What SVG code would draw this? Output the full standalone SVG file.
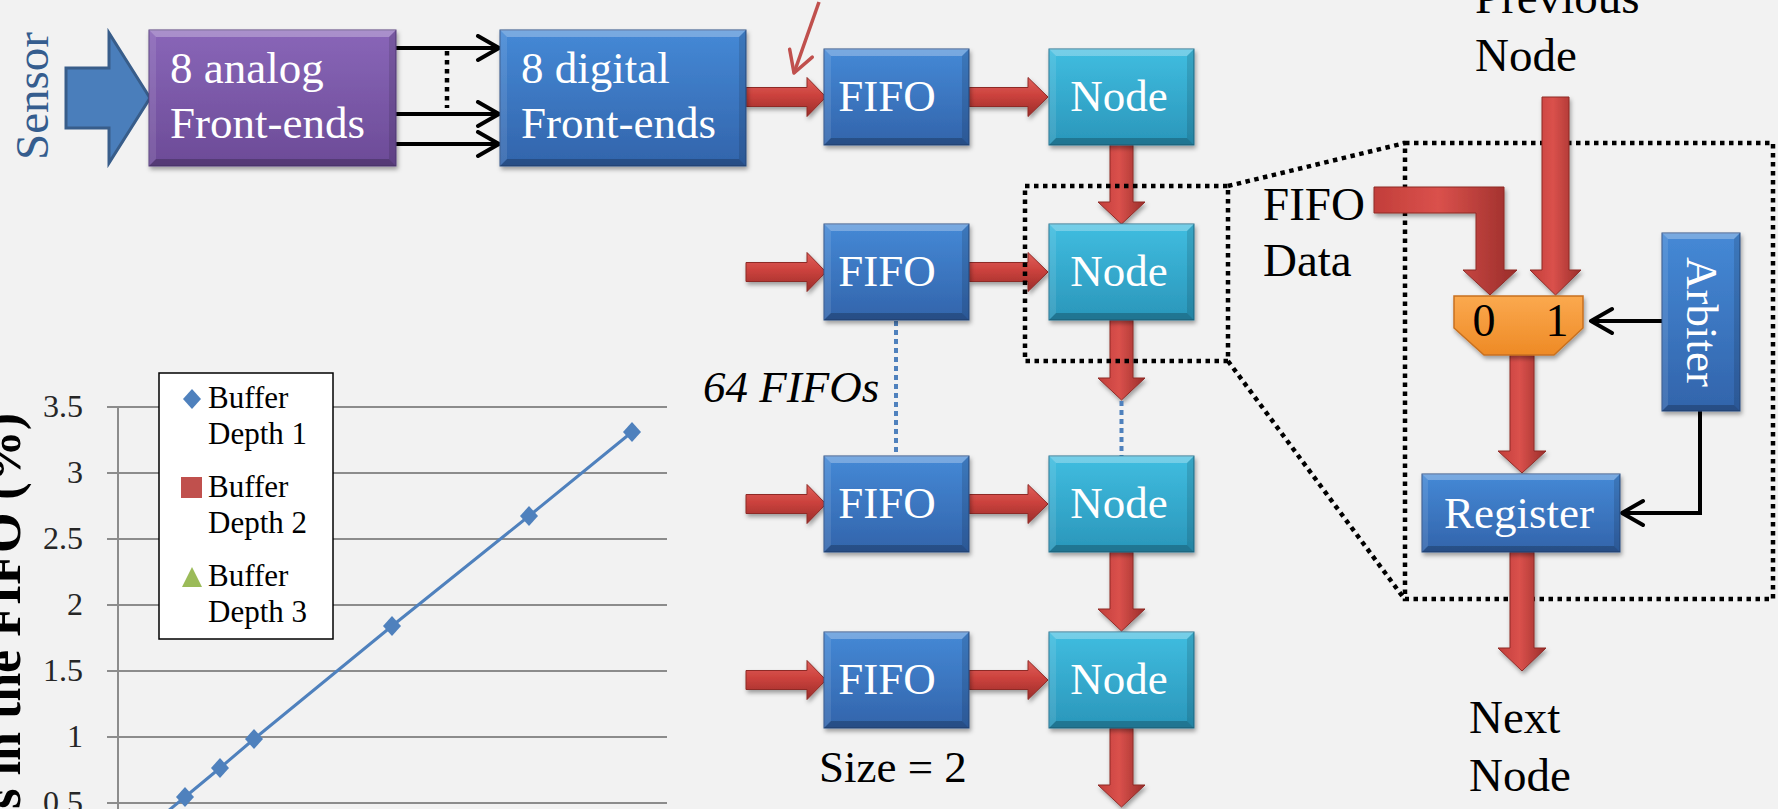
<svg xmlns="http://www.w3.org/2000/svg" xmlns:xlink="http://www.w3.org/1999/xlink" width="1778" height="809" viewBox="0 0 1778 809">
<defs>
<style>
text{font-family:"Liberation Serif","Times New Roman",serif}
.w{fill:#fff;font-size:45px}
.k{fill:#000;font-size:47px}
.bt{fill:#fff;opacity:.28}
.bb{fill:#000;opacity:.22}
.bl{fill:#fff;opacity:.1}
.br{fill:#000;opacity:.12}
.grid{stroke:#8C8C8C;stroke-width:2}
.tick{fill:#262626;font-size:32px;text-anchor:end}
.leg{fill:#000;font-size:31px}
.rh{fill:url(#gRedH);stroke:#8E2A27;stroke-width:1;filter:url(#sh)}
.rv{fill:url(#gRedV);stroke:#8E2A27;stroke-width:1;filter:url(#sh)}
.blk{fill:none;stroke:#000;stroke-width:4}
.dotk{fill:none;stroke:#000;stroke-width:4.5;stroke-dasharray:4.5 4.5}
.dotb{fill:none;stroke:#4F81BD;stroke-width:4;stroke-dasharray:5 4}
</style>
<filter id="sh" x="-15%" y="-15%" width="135%" height="145%">
<feDropShadow dx="1.5" dy="3" stdDeviation="2" flood-color="#000" flood-opacity="0.35"/>
</filter>
<linearGradient id="gBlue" x1="0" y1="0" x2="0" y2="1"><stop offset="0" stop-color="#4589D6"/><stop offset="1" stop-color="#3264AB"/></linearGradient>
<linearGradient id="gCyan" x1="0" y1="0" x2="0" y2="1"><stop offset="0" stop-color="#40BDE0"/><stop offset="1" stop-color="#2A96BA"/></linearGradient>
<linearGradient id="gPurp" x1="0" y1="0" x2="0" y2="1"><stop offset="0" stop-color="#8966B8"/><stop offset="1" stop-color="#6C4B97"/></linearGradient>
<linearGradient id="gOrange" x1="0" y1="0" x2="0" y2="1"><stop offset="0" stop-color="#FBA94F"/><stop offset="1" stop-color="#EE8A25"/></linearGradient>
<linearGradient id="gRedH" x1="0" y1="0" x2="0" y2="1"><stop offset="0" stop-color="#E0605B"/><stop offset="0.45" stop-color="#CC423D"/><stop offset="1" stop-color="#9A2D2A"/></linearGradient>
<linearGradient id="gRedV" x1="0" y1="0" x2="1" y2="0"><stop offset="0" stop-color="#C23E3A"/><stop offset="0.45" stop-color="#DA514C"/><stop offset="1" stop-color="#9A2D2A"/></linearGradient>
<g id="bev145">
<polygon class="bt" points="0,0 145,0 138,7 7,7"/>
<polygon class="bb" points="0,96 145,96 138,89 7,89"/>
<polygon class="bl" points="0,0 7,7 7,89 0,96"/>
<polygon class="br" points="145,0 138,7 138,89 145,96"/>
</g>
<g id="fifoShape">
<rect width="145" height="96" fill="url(#gBlue)" stroke="#2A4F85" stroke-width="1" filter="url(#sh)"/>
<use xlink:href="#bev145"/>
</g>
<g id="nodeShape">
<rect width="145" height="96" fill="url(#gCyan)" stroke="#22738F" stroke-width="1" filter="url(#sh)"/>
<use xlink:href="#bev145"/>
</g>
<path id="dia" d="M0,-10 L9,0 L0,10 L-9,0Z" fill="#4F81BD"/>
<marker id="chevK" markerUnits="userSpaceOnUse" markerWidth="30" markerHeight="30" refX="24" refY="14" orient="auto">
<path d="M3,2 L24,14 L3,26" fill="none" stroke="#000" stroke-width="4" stroke-linejoin="round" stroke-linecap="round"/>
</marker>
<marker id="chevR" markerUnits="userSpaceOnUse" markerWidth="30" markerHeight="30" refX="24" refY="14" orient="auto">
<path d="M3,2 L24,14 L3,26" fill="none" stroke="#C0504D" stroke-width="3.5" stroke-linejoin="round" stroke-linecap="round"/>
</marker>
</defs>

<rect width="1778" height="809" fill="#F2F2F2"/>

<!-- chart -->
<g id="chart">
<g class="grid">
<line x1="107" y1="407" x2="667" y2="407"/>
<line x1="107" y1="473" x2="667" y2="473"/>
<line x1="107" y1="539" x2="667" y2="539"/>
<line x1="107" y1="605" x2="667" y2="605"/>
<line x1="107" y1="671" x2="667" y2="671"/>
<line x1="107" y1="737" x2="667" y2="737"/>
<line x1="107" y1="803" x2="667" y2="803"/>
<line x1="118" y1="407" x2="118" y2="809"/>
</g>
<text class="tick" x="83" y="417">3.5</text>
<text class="tick" x="83" y="483">3</text>
<text class="tick" x="83" y="549">2.5</text>
<text class="tick" x="83" y="615">2</text>
<text class="tick" x="83" y="681">1.5</text>
<text class="tick" x="83" y="747">1</text>
<text class="tick" x="83" y="813">0.5</text>
<text transform="translate(20,413) rotate(-90)" text-anchor="end" font-size="52" font-weight="bold" fill="#000">s in the FIFO (%)</text>
<polyline points="168,811 185,797 220,768 254,739 392,626 529,516 632,432" fill="none" stroke="#4F81BD" stroke-width="3"/>
<use xlink:href="#dia" x="185" y="797"/>
<use xlink:href="#dia" x="220" y="768"/>
<use xlink:href="#dia" x="254" y="739"/>
<use xlink:href="#dia" x="392" y="626"/>
<use xlink:href="#dia" x="529" y="516"/>
<use xlink:href="#dia" x="632" y="432"/>
<g id="legend">
<rect x="159" y="373" width="174" height="266" fill="#fff" stroke="#000" stroke-width="1.5"/>
<use xlink:href="#dia" x="192" y="399"/>
<text class="leg" x="208" y="408">Buffer</text>
<text class="leg" x="208" y="444">Depth 1</text>
<rect x="181" y="477" width="21" height="21" fill="#C0504D"/>
<text class="leg" x="208" y="497">Buffer</text>
<text class="leg" x="208" y="533">Depth 2</text>
<polygon points="182,587 202,587 192,567" fill="#9BBB59"/>
<text class="leg" x="208" y="586">Buffer</text>
<text class="leg" x="208" y="622">Depth 3</text>
</g>
</g>

<!-- connectors -->
<g id="connectors">
<polygon id="sensorArrow" points="66,68 109,68 109,33 150,98 109,163 109,128 66,128" fill="#4A7EBB" stroke="#385D8A" stroke-width="3"/>
<line class="blk" x1="396" y1="48" x2="499" y2="48" marker-end="url(#chevK)"/>
<line class="blk" x1="396" y1="114" x2="499" y2="114" marker-end="url(#chevK)"/>
<line class="blk" x1="396" y1="144" x2="499" y2="144" marker-end="url(#chevK)"/>
<line class="dotk" x1="447" y1="51" x2="447" y2="108"/>
<line x1="819" y1="2" x2="794" y2="73" stroke="#C0504D" stroke-width="3.5" marker-end="url(#chevR)"/>

<polygon class="rh" points="746,87.5 807,87.5 807,77.5 826,97 807,116.5 807,106.5 746,106.5"/>
<polygon class="rh" points="969,87.5 1028,87.5 1028,77.5 1048,97 1028,116.5 1028,106.5 969,106.5"/>
<polygon class="rh" points="746,262.5 807,262.5 807,252.5 826,272 807,291.5 807,281.5 746,281.5"/>
<polygon class="rh" points="969,262.5 1028,262.5 1028,252.5 1048,272 1028,291.5 1028,281.5 969,281.5"/>
<polygon class="rh" points="746,494.5 807,494.5 807,484.5 826,504 807,523.5 807,513.5 746,513.5"/>
<polygon class="rh" points="969,494.5 1028,494.5 1028,484.5 1048,504 1028,523.5 1028,513.5 969,513.5"/>
<polygon class="rh" points="746,670.5 807,670.5 807,660.5 826,680 807,699.5 807,689.5 746,689.5"/>
<polygon class="rh" points="969,670.5 1028,670.5 1028,660.5 1048,680 1028,699.5 1028,689.5 969,689.5"/>

<polygon class="rv" points="1110,144 1133,144 1133,202 1145,202 1121.5,224 1098,202 1110,202"/>
<polygon class="rv" points="1110,320 1133,320 1133,378 1145,378 1121.5,400 1098,378 1110,378"/>
<polygon class="rv" points="1110,552 1133,552 1133,609 1145,609 1121.5,631 1098,609 1110,609"/>
<polygon class="rv" points="1110,728 1133,728 1133,785 1145,785 1121.5,807 1098,785 1110,785"/>

<line class="dotb" x1="896" y1="321" x2="896" y2="456"/>
<line class="dotb" x1="1121.5" y1="401" x2="1121.5" y2="456"/>

<rect class="dotk" x="1025" y="186" width="203" height="175"/>
<rect class="dotk" x="1405" y="143" width="368" height="456"/>
<line class="dotk" x1="1228" y1="186" x2="1405" y2="143"/>
<line class="dotk" x1="1228" y1="361" x2="1403" y2="597"/>

<polygon class="rv" points="1542,97 1569,97 1569,270 1581,270 1555.5,295 1530,270 1542,270"/>
<polygon class="rv" points="1374,187 1504,187 1504,270 1517,270 1490,295 1463,270 1476,270 1476,213 1374,213"/>
<polygon class="rv" points="1510,355 1534,355 1534,451 1546,451 1522,473 1498,451 1510,451"/>
<polygon class="rv" points="1510,552 1534,552 1534,648 1546,648 1522,671 1498,648 1510,648"/>

<line class="blk" x1="1662" y1="321" x2="1591" y2="321" marker-end="url(#chevK)"/>
<polyline class="blk" points="1700,411 1700,513 1622,513" marker-end="url(#chevK)"/>
</g>

<text transform="translate(48,96) rotate(-90)" text-anchor="middle" font-size="47" fill="#355D8E">Sensor</text>

<!-- nodes -->
<g id="analog">
<rect x="149" y="30" width="247" height="136" fill="url(#gPurp)" stroke="#563E7C" stroke-width="1" filter="url(#sh)"/>
<polygon class="bt" points="149,30 396,30 389,37 156,37"/>
<polygon class="bb" points="149,166 396,166 389,159 156,159"/>
<polygon class="bl" points="149,30 156,37 156,159 149,166"/>
<polygon class="br" points="396,30 389,37 389,159 396,166"/>
<text class="w" x="170" y="83">8 analog</text>
<text class="w" x="170" y="138">Front-ends</text>
</g>
<g id="digital">
<rect x="500" y="30" width="246" height="136" fill="url(#gBlue)" stroke="#2A4F85" stroke-width="1" filter="url(#sh)"/>
<polygon class="bt" points="500,30 746,30 739,37 507,37"/>
<polygon class="bb" points="500,166 746,166 739,159 507,159"/>
<polygon class="bl" points="500,30 507,37 507,159 500,166"/>
<polygon class="br" points="746,30 739,37 739,159 746,166"/>
<text class="w" x="521" y="83">8 digital</text>
<text class="w" x="521" y="138">Front-ends</text>
</g>

<g id="fifo1"><use xlink:href="#fifoShape" x="824" y="49"/><text class="w" x="887" y="111" text-anchor="middle">FIFO</text></g>
<g id="fifo2"><use xlink:href="#fifoShape" x="824" y="224"/><text class="w" x="887" y="286" text-anchor="middle">FIFO</text></g>
<g id="fifo3"><use xlink:href="#fifoShape" x="824" y="456"/><text class="w" x="887" y="518" text-anchor="middle">FIFO</text></g>
<g id="fifo4"><use xlink:href="#fifoShape" x="824" y="632"/><text class="w" x="887" y="694" text-anchor="middle">FIFO</text></g>

<g id="node1"><use xlink:href="#nodeShape" x="1049" y="49"/><text class="w" x="1119" y="111" text-anchor="middle">Node</text></g>
<g id="node2"><use xlink:href="#nodeShape" x="1049" y="224"/><text class="w" x="1119" y="286" text-anchor="middle">Node</text></g>
<g id="node3"><use xlink:href="#nodeShape" x="1049" y="456"/><text class="w" x="1119" y="518" text-anchor="middle">Node</text></g>
<g id="node4"><use xlink:href="#nodeShape" x="1049" y="632"/><text class="w" x="1119" y="694" text-anchor="middle">Node</text></g>

<text x="703" y="402" font-size="45" font-style="italic" fill="#000">64 FIFOs</text>
<text x="819" y="782" font-size="45" fill="#000">Size = 2</text>

<text class="k" x="1475" y="13">Previous</text>
<text class="k" x="1475" y="71">Node</text>
<text class="k" x="1263" y="220">FIFO</text>
<text class="k" x="1263" y="276">Data</text>
<text class="k" x="1469" y="733">Next</text>
<text class="k" x="1469" y="791">Node</text>

<g id="mux">
<polygon points="1454,296 1583,296 1583,328 1554,355 1484,355 1454,328" fill="url(#gOrange)" stroke="#C8701F" stroke-width="1.5" filter="url(#sh)"/>
<text x="1484" y="336" font-size="46" text-anchor="middle" fill="#000">0</text>
<text x="1557" y="336" font-size="46" text-anchor="middle" fill="#000">1</text>
</g>

<g id="arbiter">
<rect x="1662" y="233" width="78" height="178" fill="url(#gBlue)" stroke="#2A4F85" stroke-width="1" filter="url(#sh)"/>
<polygon class="bt" points="1662,233 1740,233 1734,239 1668,239"/>
<polygon class="bb" points="1662,411 1740,411 1734,405 1668,405"/>
<polygon class="bl" points="1662,233 1668,239 1668,405 1662,411"/>
<polygon class="br" points="1740,233 1734,239 1734,405 1740,411"/>
<text class="w" transform="translate(1687,322) rotate(90)" text-anchor="middle">Arbiter</text>
</g>

<g id="register">
<rect x="1422" y="474" width="198" height="78" fill="url(#gBlue)" stroke="#2A4F85" stroke-width="1" filter="url(#sh)"/>
<polygon class="bt" points="1422,474 1620,474 1614,480 1428,480"/>
<polygon class="bb" points="1422,552 1620,552 1614,546 1428,546"/>
<polygon class="bl" points="1422,474 1428,480 1428,546 1422,552"/>
<polygon class="br" points="1620,474 1614,480 1614,546 1620,552"/>
<text class="w" x="1519" y="528" text-anchor="middle">Register</text>
</g>
</svg>
